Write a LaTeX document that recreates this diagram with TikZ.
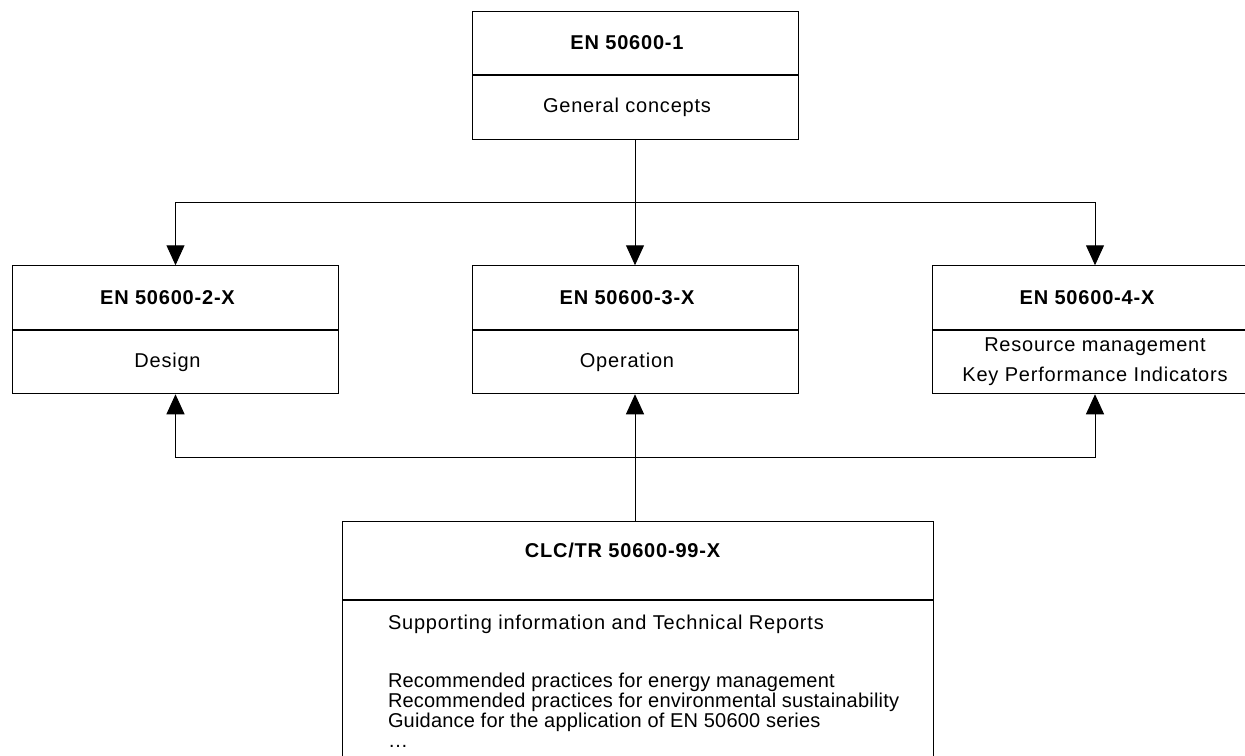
\documentclass[tikz,border=0pt]{standalone}
\usepackage{fontspec}
\setmainfont{Liberation Sans}[LetterSpace=4]
\newfontfamily\tightfont{Liberation Sans}[LetterSpace=1]
\usetikzlibrary{positioning,arrows.meta}
\tikzset{
  headbox/.style={rectangle, draw, font=\bfseries, text centered, minimum width=163pt, minimum height=31.75pt, inner sep=0pt},
  bodybox/.style={rectangle, draw, text centered, align=center, minimum width=163pt, minimum height=31.75pt, inner sep=0pt},
  textleft/.style={execute at end node={\hspace*{#1}}},
  textleft/.default=8pt,
  connector/.style={line width=0.5pt, -{Triangle[length=10pt, width=9pt]}}
}

\begin{document}
\begin{tikzpicture}[x=0.5pt, y=-0.5pt, line width=0.5pt]
  \useasboundingbox (0,0) rectangle (1245,755);
  \clip (0,0) rectangle (1245,755);
  % general concepts
  \node (gen-head) [headbox, textleft] at (635,43) {EN 50600-1};
  \node (gen-body) [bodybox, textleft, below=0pt of gen-head] {General concepts};
  % second row
  \node (des-head) [headbox, textleft] at (175.5,297.5) {EN 50600-2-X};
  \node (des-body) [bodybox, textleft, below=0pt of des-head] {Design};
  \node (oper-head) [headbox, textleft] at (635,297.5) {EN 50600-3-X};
  \node (oper-body) [bodybox, textleft, below=0pt of oper-head] {Operation};
  \node (kpi-head) [headbox, textleft] at (1095,297.5) {EN 50600-4-X};
  \node (kpi-body) [bodybox, below=0pt of kpi-head] {Resource management\\[3pt]Key Performance Indicators};
  % technical reports
  \node (tr-head) [headbox, textleft=15pt, minimum width=295.5pt, minimum height=39pt, text height=7pt, text depth=10pt] at (637.5,560) {CLC/TR 50600-99-X};
  \node (tr-body) [bodybox, minimum width=295.5pt, minimum height=90pt, below=0pt of tr-head] {};
  \node (tr-text) [below right=7.5pt and 23pt of tr-body.north west, anchor=north west, inner sep=0pt, align=left, font=\fontsize{10}{10}\selectfont]
    {Supporting information and Technical Reports\\[19pt]
     {\tightfont Recommended practices for energy management}\\
     {\tightfont Recommended practices for environmental sustainability}\\
     {\tightfont Guidance for the application of EN 50600 series}\\
     \dots};
  % connectors
  \coordinate (topbus) at (635,202);
  \coordinate (botbus) at (635,457);
  \draw [connector] (gen-body.south) -- (oper-head.north);
  \draw [connector] (topbus) -| (des-head.north);
  \draw [connector] (topbus) -| (kpi-head.north);
  \draw [connector] (oper-body.south |- tr-head.north) -- (oper-body.south);
  \draw [connector] (botbus) -| (des-body.south);
  \draw [connector] (botbus) -| (kpi-body.south);
\end{tikzpicture}
\end{document}
